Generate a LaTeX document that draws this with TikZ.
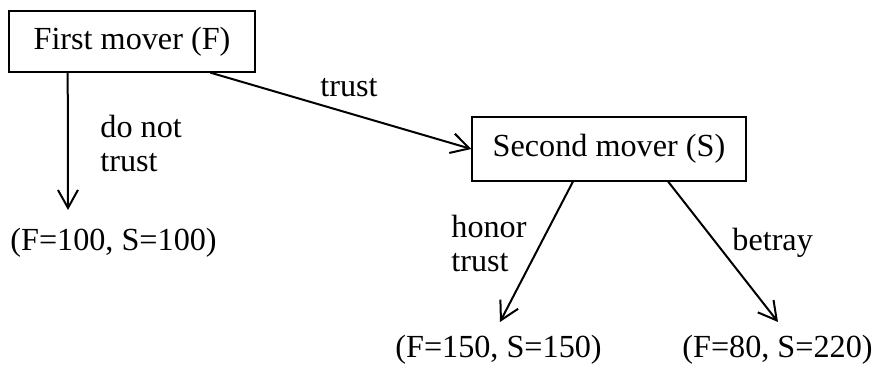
\documentclass[tikz,border=0pt]{standalone}
\usepackage{fontspec}
\setmainfont{Liberation Serif}
\usetikzlibrary{positioning, arrows.meta, calc}

\begin{document}
\begin{tikzpicture}[
        x=0.5pt, y=-0.5pt,
        mover/.style={rectangle, draw, line width=0.65pt, inner sep=0pt, font=\fontsize{16.1}{17}\selectfont},
        choice/.style={anchor=west, align=left, inner sep=0pt, font=\fontsize{16.1}{17}\selectfont},
        payoff/.style={anchor=west, inner sep=0pt, font=\fontsize{16.1}{17}\selectfont},
        move/.style={line width=1pt, -{Straight Barb[length=9pt, width=10pt, line width=1pt]}}
    ]
    \useasboundingbox (0,0) rectangle (874,368);

    % Players
    \node[mover, minimum width=123pt, minimum height=30.5pt] (first)  at (132, 41.5) {First mover (F)};
    \node[mover, minimum width=137pt, minimum height=32pt]   (second) at (609, 149)  {Second mover (S)};

    % Outcomes
    \node[payoff] (out1) at (10, 243)  {(F=100, S=100)};
    \node[payoff] (out2) at (395, 350) {(F=150, S=150)};
    \node[payoff] (out3) at (682, 350) {(F=80, S=220)};

    % --------------------------------------------------
    % First mover: do not trust / trust
    \coordinate (notrust end) at (68, 210);
    \draw[move] ($(first.south west)!0.24!(first.south east)$) -- (notrust end);
    \node[choice] (notrust) at (100, 143) {do not\\trust};

    \draw[move] ($(first.south west)!0.817!(first.south east)$) -- (second.west);
    \node[choice] (trust) at (320, 88) {trust};

    % --------------------------------------------------
    % Second mover: honor trust / betray
    \coordinate (honor end) at (500, 322);
    \coordinate (betray end) at (778, 322);
    \draw[move] ($(second.south west)!0.369!(second.south east)$) -- (honor end);
    \draw[move] ($(second.south west)!0.715!(second.south east)$) -- (betray end);
    \node[choice] (honor) at (451, 243) {honor\\trust};
    \node[choice] (betray) at (732, 243) {betray};

\end{tikzpicture}
\end{document}
